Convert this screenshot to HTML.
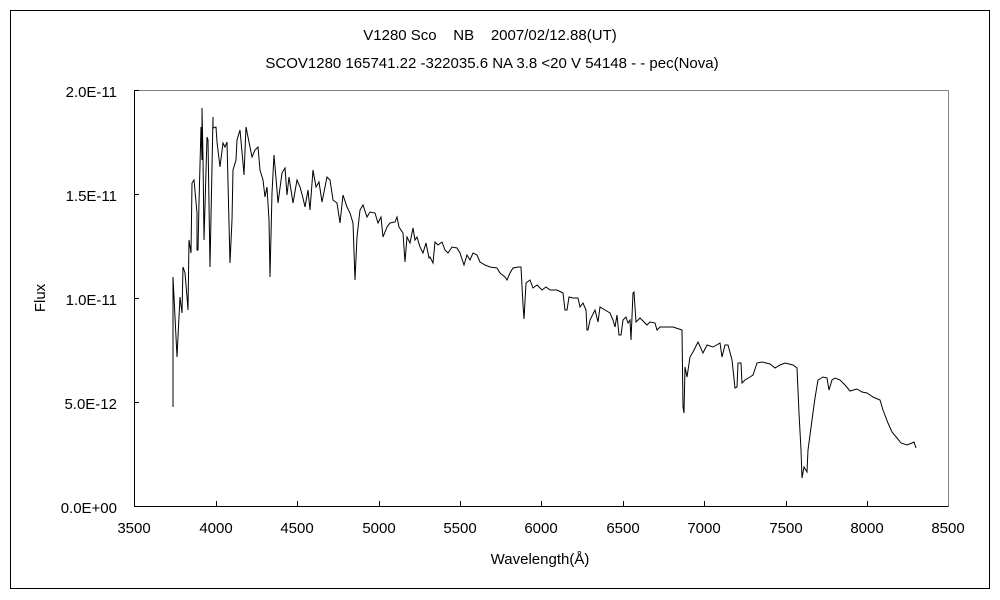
<!DOCTYPE html>
<html><head><meta charset="utf-8"><style>
html,body{margin:0;padding:0;background:#fff;}
svg{display:block;}
text{font-family:"Liberation Sans","Noto Sans CJK JP",sans-serif;font-size:15px;fill:#000;}
</style></head><body>
<svg width="1000" height="600" viewBox="0 0 1000 600">
<rect x="0" y="0" width="1000" height="600" fill="#fff"/>
<rect x="10.5" y="10.5" width="979" height="578" fill="none" stroke="#000" stroke-width="1"/>
<line x1="134.5" y1="90.5" x2="948.5" y2="90.5" stroke="#808080"/>
<line x1="948.5" y1="90.5" x2="948.5" y2="506.5" stroke="#808080"/>
<line x1="134.5" y1="90" x2="134.5" y2="506.5" stroke="#000"/>
<line x1="134" y1="506.5" x2="948.5" y2="506.5" stroke="#000"/>
<g stroke="#000">
<line x1="134" y1="90.5" x2="139" y2="90.5"/>
<line x1="134" y1="194.5" x2="139" y2="194.5"/>
<line x1="134" y1="298.5" x2="139" y2="298.5"/>
<line x1="134" y1="402.5" x2="139" y2="402.5"/>
<line x1="216.5" y1="506" x2="216.5" y2="501"/>
<line x1="297.5" y1="506" x2="297.5" y2="501"/>
<line x1="379.5" y1="506" x2="379.5" y2="501"/>
<line x1="460.5" y1="506" x2="460.5" y2="501"/>
<line x1="541.5" y1="506" x2="541.5" y2="501"/>
<line x1="623.5" y1="506" x2="623.5" y2="501"/>
<line x1="704.5" y1="506" x2="704.5" y2="501"/>
<line x1="786.5" y1="506" x2="786.5" y2="501"/>
<line x1="867.5" y1="506" x2="867.5" y2="501"/>
</g>
<text x="490" y="40" text-anchor="middle" xml:space="preserve">V1280 Sco    NB    2007/02/12.88(UT)</text>
<text x="492" y="68" text-anchor="middle">SCOV1280 165741.22 -322035.6 NA 3.8 &lt;20 V 54148 - - pec(Nova)</text>
<g text-anchor="end">
<text x="117" y="97">2.0E-11</text>
<text x="117" y="201">1.5E-11</text>
<text x="117" y="305">1.0E-11</text>
<text x="117" y="409">5.0E-12</text>
<text x="117" y="513">0.0E+00</text>
</g>
<g text-anchor="middle">
<text x="134" y="533">3500</text>
<text x="216" y="533">4000</text>
<text x="297" y="533">4500</text>
<text x="379" y="533">5000</text>
<text x="460" y="533">5500</text>
<text x="541" y="533">6000</text>
<text x="623" y="533">6500</text>
<text x="704" y="533">7000</text>
<text x="786" y="533">7500</text>
<text x="867" y="533">8000</text>
<text x="948" y="533">8500</text>
<text x="540" y="564">Wavelength(Å)</text>
</g>
<text x="45" y="298" text-anchor="middle" transform="rotate(-90 45 298)">Flux</text>
<polyline fill="none" stroke="#000" stroke-width="1" stroke-linejoin="miter" points="
173,407 173,277 177,357 180,297 182,313 183,267 185,273 187,297 188,310 189,240 191,253 192,183 194,180 197,213 197,250 198,250 199,203 201,127 202,160 202,108 203,157 204,240 207,137 208,140 210,267 213,117 213,128 216,127 217,142 220,167 223,143 225,147 227,142 230,263 232,220 233,170 236,160 237,140 240,130 243,163 244,175 246,127 248,137 252,157 255,150 258,147 260,170 263,180 265,197 267,187 269,220 270,277 272,193 274,155 277,190 278,203 282,173 285,168 287,195 289,177 293,203 297,180 300,187 303,198 305,207 308,190 310,210 313,170 316,187 319,182 322,202 327,177 330,180 333,200 337,203 340,223 343,195 347,207 350,213 353,223 355,280 357,237 360,210 363,205 367,217 370,212 375,213 378,223 381,217 383,237 387,227 390,223 395,222 397,217 399,227 403,233 405,262 407,237 410,243 413,228 415,240 417,237 420,247 423,253 426,243 429,258
430,257 433,263 435,242 438,245 442,242 445,250 448,253 452,247 457,248 460,253 464,265 467,255 470,260 473,253 477,255 480,262 485,265 490,267 497,268 500,273 505,277 507,280 510,273 513,268 518,267 521,267 523,305 524,319 526,283 530,280 533,288 537,285 542,290 546,287 550,290 557,290 563,293 565,310 567,310 569,297 573,298 578,298 580,307 583,303 586,310 587,330 588,330 590,320 595,310 598,322 600,307 605,310 610,313 613,320 615,327 617,315 619,335 621,335 623,320 626,317 628,323 630,320 631,340 633,293 634,292 636,322 640,318 647,325 650,322 655,323 657,330 660,327 667,327 673,327
676,328 682,330 683,407 684,413 685,367 687,377 690,357 693,352 698,342 703,353 707,345 713,347 720,343 722,357 725,345 728,345 732,360 735,388 737,387 738,363 741,363 742,383 745,380 750,377 753,375 757,363 762,362 770,364 775,368 780,365 785,363 793,365 797,368 799,413 801,450 802,478 804,467 807,472 808,450 812,420 815,398 818,380 823,377 827,378 829,390 832,380 835,378 840,380 845,385 850,391 857,389 862,392 867,393 873,397 880,400 883,410 888,423 892,432 897,438 901,443 907,445 912,443 914,442 916,448"/>
</svg>
</body></html>
